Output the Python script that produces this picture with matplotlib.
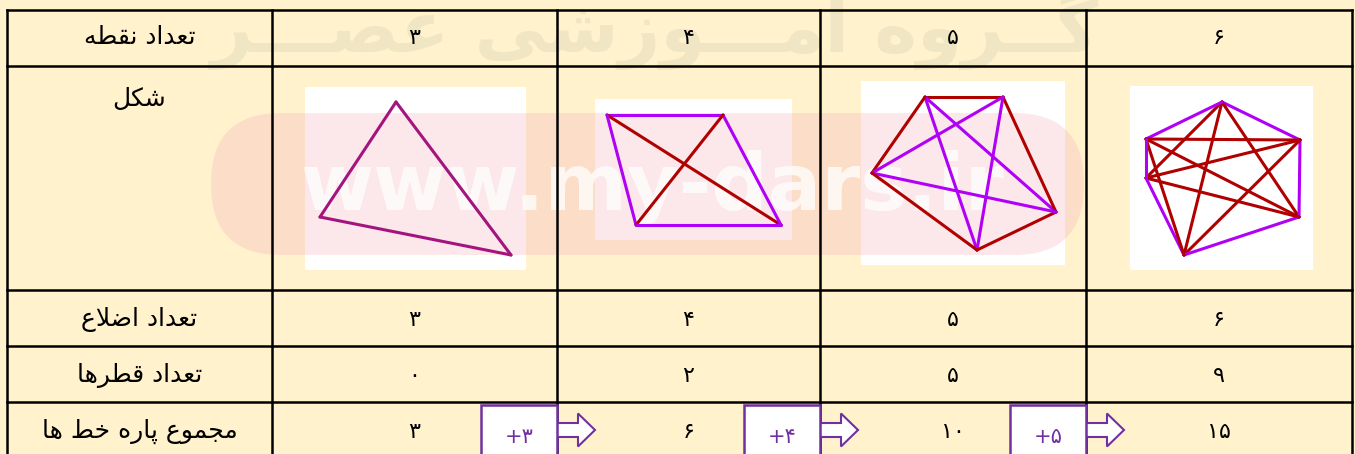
import itertools
import matplotlib
matplotlib.use("Agg")
import matplotlib.pyplot as plt
from matplotlib.patches import Rectangle, FancyBboxPatch, FancyArrow

# ---------------- data ----------------
row_labels = ["تعداد نقطه", "شکل", "تعداد اضلاع", "تعداد قطرها", "مجموع پاره خط ها"]
point_counts = [3, 4, 5, 6]
side_counts = [3, 4, 5, 6]
diagonal_counts = [0, 2, 5, 9]
segment_totals = [3, 6, 10, 15]
increments = [3, 4, 5]
watermark_top = "گــروه آمـــوزشی عصـــر"
watermark_url = "www.my-dars.ir"

# polygon vertices (pixels inside each picture box), in order around the polygon
triangle_pts = [(91, 15), (15, 130), (206, 168)]
quad_pts = [(12, 16), (128, 16), (186, 126), (41, 126)]
penta_pts = [(64, 16), (142, 16), (195, 131), (116, 169), (11, 92)]
hexa_pts = [(92, 16), (170, 54), (169, 131), (54, 169), (16, 92), (16, 53)]
shapes = [triangle_pts, quad_pts, penta_pts, hexa_pts]

# ---------------- layout / style ----------------
W, H = 1355, 454
col_edges = [7, 272, 557, 820, 1086, 1352]
row_edges = [10, 66, 290, 346, 402, 470]
pic_boxes = [(305, 87, 221, 183), (595, 99, 197, 141), (861, 81, 204, 184), (1130, 86, 183, 184)]
BG = "#FFF2CC"
PURPLE = "#B000F5"
DARKRED = "#B00000"
MAGENTA = "#A3147F"
edge_colors = [(MAGENTA, None), (PURPLE, DARKRED), (DARKRED, PURPLE), (PURPLE, DARKRED)]
ARROW = "#7030A0"
FS_LABEL = 18
FS_NUM = 16

# ---------------- Persian shaping (presentation forms, visual order) ----------------
FORMS = {
    'ا': ('\uFE8D', '\uFE8E'), 'آ': ('\uFE81', '\uFE82'), 'د': ('\uFEA9', '\uFEAA'),
    'ر': ('\uFEAD', '\uFEAE'), 'ز': ('\uFEAF', '\uFEB0'), 'و': ('\uFEED', '\uFEEE'),
    'ت': ('\uFE95', '\uFE96', '\uFE97', '\uFE98'), 'پ': ('\uFB56', '\uFB57', '\uFB58', '\uFB59'),
    'ج': ('\uFE9D', '\uFE9E', '\uFE9F', '\uFEA0'), 'خ': ('\uFEA5', '\uFEA6', '\uFEA7', '\uFEA8'),
    'ش': ('\uFEB5', '\uFEB6', '\uFEB7', '\uFEB8'), 'ص': ('\uFEB9', '\uFEBA', '\uFEBB', '\uFEBC'),
    'ض': ('\uFEBD', '\uFEBE', '\uFEBF', '\uFEC0'), 'ط': ('\uFEC1', '\uFEC2', '\uFEC3', '\uFEC4'),
    'ع': ('\uFEC9', '\uFECA', '\uFECB', '\uFECC'), 'ق': ('\uFED5', '\uFED6', '\uFED7', '\uFED8'),
    'ک': ('\uFB8E', '\uFB8F', '\uFB90', '\uFB91'), 'گ': ('\uFB92', '\uFB93', '\uFB94', '\uFB95'),
    'ل': ('\uFEDD', '\uFEDE', '\uFEDF', '\uFEE0'), 'م': ('\uFEE1', '\uFEE2', '\uFEE3', '\uFEE4'),
    'ن': ('\uFEE5', '\uFEE6', '\uFEE7', '\uFEE8'), 'ه': ('\uFEE9', '\uFEEA', '\uFEEB', '\uFEEC'),
    'ی': ('\uFBFC', '\uFBFD', '\uFBFE', '\uFBFF'), 'ـ': ('\u0640',) * 4,
}
LAM_ALEF = {'ا': ('\uFEFB', '\uFEFC'), 'آ': ('\uFEF5', '\uFEF6')}


def shape_fa(text):
    units, i = [], 0
    while i < len(text):
        c = text[i]
        if c == 'ل' and i + 1 < len(text) and text[i + 1] in LAM_ALEF:
            units.append(('LA', text[i + 1]))
            i += 2
        else:
            units.append(('C', c))
            i += 1

    def dual(u):
        return u[0] == 'C' and u[1] in FORMS and len(FORMS[u[1]]) == 4

    def joins(u):
        return u[0] == 'LA' or u[1] in FORMS

    out = []
    for k, u in enumerate(units):
        prev = units[k - 1] if k > 0 else None
        nxt = units[k + 1] if k + 1 < len(units) else None
        jp = prev is not None and dual(prev) and joins(u)
        if u[0] == 'LA':
            out.append(LAM_ALEF[u[1]][1 if jp else 0])
            continue
        c = u[1]
        if c not in FORMS:
            out.append(c)
            continue
        f = FORMS[c]
        jn = len(f) == 4 and nxt is not None and joins(nxt)
        out.append(f[3] if (jp and jn) else f[1] if jp else f[2] if jn else f[0])
    return ''.join(reversed(out))


def fa_num(n):
    return str(n).translate(str.maketrans('0123456789', '۰۱۲۳۴۵۶۷۸۹'))


# ---------------- figure ----------------
fig = plt.figure(figsize=(W / 100, H / 100), dpi=100, facecolor=BG)
ax = fig.add_axes([0, 0, 1, 1])
ax.set_xlim(0, W)
ax.set_ylim(H, 0)
ax.axis("off")
ax.set_facecolor(BG)

# top faint watermark
ax.text(655, 52, shape_fa(watermark_top), ha="center", va="baseline", fontsize=52,
        fontweight="bold", color="#F0E6C3", family="DejaVu Sans", zorder=1)

# picture boxes and shapes
for (bx, by, bw, bh), pts, (perim_c, diag_c) in zip(pic_boxes, shapes, edge_colors):
    ax.add_patch(Rectangle((bx, by), bw, bh, facecolor="white", edgecolor="none", zorder=2))
    n = len(pts)
    P = [(bx + x, by + y) for x, y in pts]
    for a, b in itertools.combinations(range(n), 2):
        adjacent = (b - a == 1) or (a == 0 and b == n - 1)
        col = perim_c if adjacent else diag_c
        ax.plot([P[a][0], P[b][0]], [P[a][1], P[b][1]], color=col, lw=2.2,
                solid_capstyle="round", zorder=4)

# pink pill watermark
pill = FancyBboxPatch((211 + 70, 113 + 70), 1084 - 211 - 140, 2,
                      boxstyle="round,pad=70,rounding_size=70",
                      facecolor=(0.97, 0.70, 0.75), edgecolor="none", alpha=0.30, zorder=3)
ax.add_patch(pill)
ax.text(652, 210, watermark_url, ha="center", va="baseline", fontsize=57,
        color="white", alpha=0.75, fontweight="bold", family="DejaVu Sans", zorder=3.5)

# table lines
for y in row_edges[:-1]:
    ax.plot([col_edges[0], col_edges[-1]], [y, y], color="black", lw=1.8, zorder=5,
            solid_capstyle="projecting")
for x in col_edges:
    ax.plot([x, x], [row_edges[0], row_edges[-1]], color="black", lw=1.8, zorder=5,
            solid_capstyle="projecting")

# texts
lab_x = (col_edges[0] + col_edges[1]) / 2
row_text_y = [37, 99, 319, 375, 431]
for lbl, ty in zip(row_labels, row_text_y):
    ax.text(lab_x, ty, shape_fa(lbl), ha="center", va="center", fontsize=FS_LABEL,
            family="DejaVu Sans", zorder=6)

col_centers = [(col_edges[i] + col_edges[i + 1]) / 2 for i in range(1, 5)]
for vals, ty in [(point_counts, 38), (side_counts, 320), (diagonal_counts, 376), (segment_totals, 432)]:
    for cx, v in zip(col_centers, vals):
        ax.text(cx, ty, fa_num(v), ha="center", va="center", fontsize=FS_NUM,
                family="DejaVu Sans", zorder=6)

# increment boxes with arrows
for i, inc in enumerate(increments):
    right = col_edges[i + 2]
    ax.add_patch(FancyArrow(right - 2, 430, 40, 0, width=14, head_width=33, head_length=17,
                            length_includes_head=True, facecolor="white", edgecolor=ARROW,
                            lw=1.5, zorder=6))
    ax.add_patch(Rectangle((right - 76, 405), 76, 60, facecolor="white", edgecolor=ARROW,
                           lw=1.8, zorder=7))
    ax.text(right - 38, 437, "+" + fa_num(inc), ha="center", va="center", fontsize=15,
            color=ARROW, family="DejaVu Sans", zorder=8)

fig.savefig("out.png", dpi=100, facecolor=BG)
